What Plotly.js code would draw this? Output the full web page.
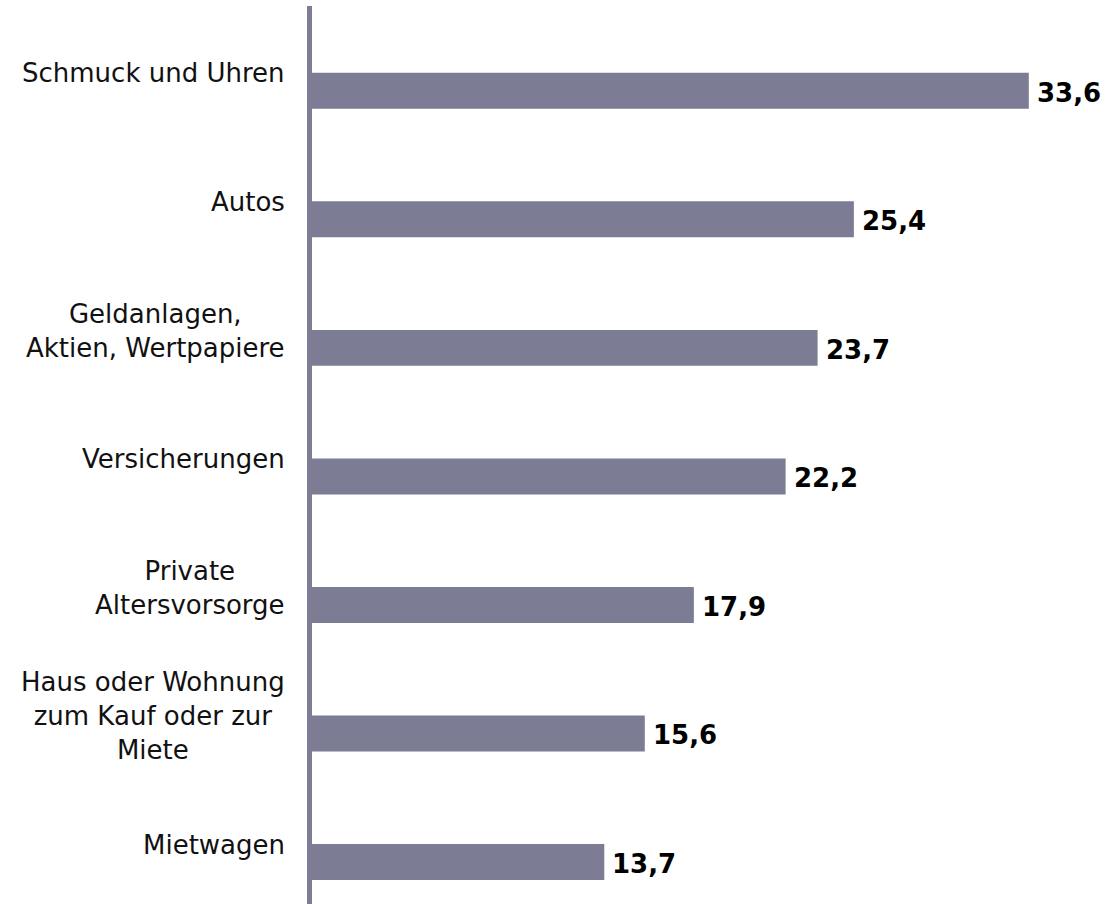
<!DOCTYPE html>
<html>
<head>
<meta charset="utf-8">
<script src="https://cdn.plot.ly/plotly-3.0.1.min.js"></script>
<style>
html,body{margin:0;padding:0;background:#fff;}
#chart{width:1105px;height:904px;}
</style>
</head>
<body>
<div id="chart"></div>
<script>
// Data (top to bottom as displayed)
const categories = [
  "Schmuck und Uhren",
  "Autos",
  "Geldanlagen,<br>Aktien, Wertpapiere",
  "Versicherungen",
  "Private<br>Altersvorsorge",
  "Haus oder Wohnung<br>zum Kauf oder zur<br>Miete",
  "Mietwagen"
];
const values = [33.6, 25.4, 23.7, 22.2, 17.9, 15.6, 13.7];

const n = categories.length;
const pos = categories.map((c, i) => n - 1 - i);
const barColor = "#7c7c94";
const fontFam = "DejaVu Sans, Verdana, sans-serif";

const annotations = [];
categories.forEach((c, i) => {
  annotations.push({
    xref: "paper", yref: "y", x: 0, y: pos[i] + 0.135,
    xanchor: "right", yanchor: "middle", xshift: -25,
    text: c, showarrow: false, align: "center",
    font: {family: fontFam, size: 26, color: "#111"}
  });
  annotations.push({
    xref: "x", yref: "y", x: values[i], y: pos[i],
    xanchor: "left", yanchor: "middle", xshift: 6, yshift: -2,
    text: "<b>" + values[i].toFixed(1).replace(".", ",") + "</b>",
    showarrow: false,
    font: {family: fontFam, size: 26, color: "#000"}
  });
});

const trace = {
  type: "bar", orientation: "h",
  x: values, y: pos,
  width: 0.28,
  marker: {color: barColor},
  hoverinfo: "skip"
};

const layout = {
  width: 1105, height: 904,
  margin: {l: 312, r: 25, t: 6, b: 0},
  paper_bgcolor: "#fff", plot_bgcolor: "#fff",
  showlegend: false,
  xaxis: {range: [0, 36], visible: false, fixedrange: true},
  yaxis: {range: [-0.327, 6.66], showticklabels: false, showgrid: false,
          zeroline: false, ticks: "", showline: false, fixedrange: true},
  shapes: [{
    type: "rect", xref: "paper", yref: "paper",
    xsizemode: "pixel", xanchor: 0, x0: -5, x1: 0,
    y0: 0, y1: 1,
    line: {width: 0}, fillcolor: barColor
  }],
  annotations: annotations
};

Plotly.newPlot("chart", [trace], layout, {displayModeBar: false, staticPlot: true});
</script>
</body>
</html>
